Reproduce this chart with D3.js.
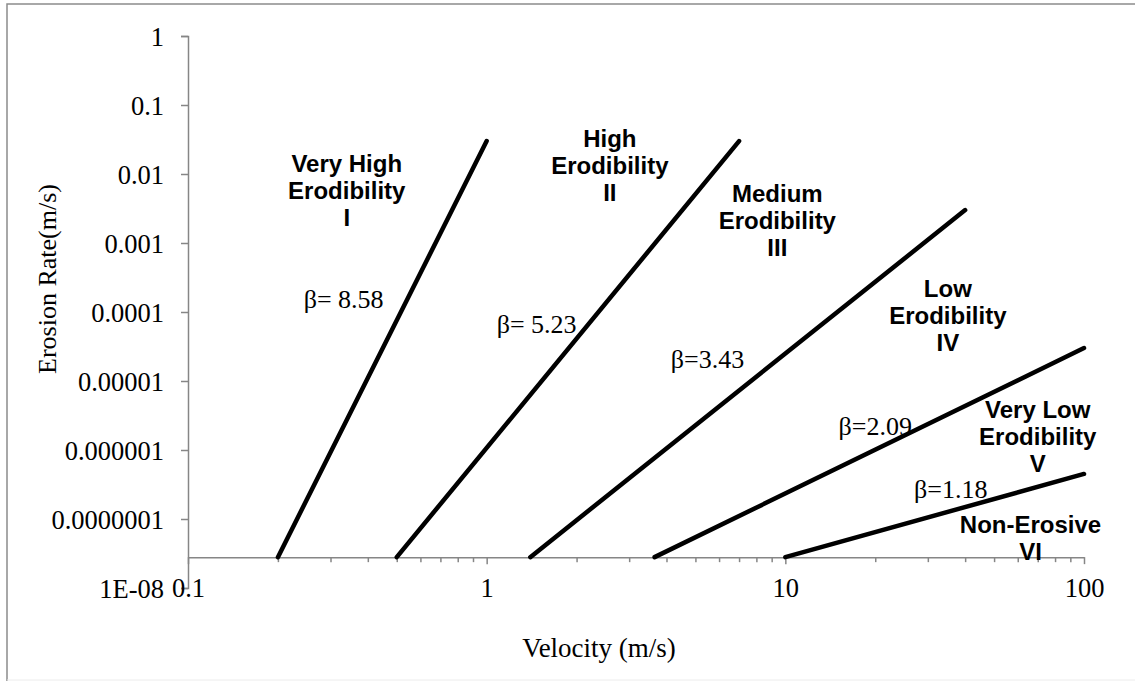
<!DOCTYPE html>
<html><head><meta charset="utf-8">
<script src="https://cdn.jsdelivr.net/npm/d3@7"></script>
<style>body{margin:0;background:#fff}svg{display:block}</style>
</head><body>
<svg id="c" width="1135" height="681"></svg>
<script>
// ---- data ----
const classes = ["I","II","III","IV","V"];
const startVelocity = [0.2, 0.5, 1.4, 3.65, 10];
const endVelocity   = [1, 7, 40, 100, 100];
const startRate     = [2.8e-8, 2.8e-8, 2.8e-8, 2.8e-8, 2.8e-8];
const endRate       = [0.03, 0.03, 0.003, 3e-5, 4.5e-7];
const betaLabels    = ["β= 8.58","β= 5.23","β=3.43","β=2.09","β=1.18"];
const betaPos       = [[0.332,1.14e-4],[1.47,4.96e-5],[5.49,1.54e-5],[20.0,1.65e-6],[35.8,2.01e-7]];
const zoneLabels = [
  ["Very High","Erodibility","I"],
  ["High","Erodibility","II"],
  ["Medium","Erodibility","III"],
  ["Low","Erodibility","IV"],
  ["Very Low","Erodibility","V"],
  ["Non-Erosive","VI"]
];
const zonePos = [[0.340,0.0107],[2.585,0.0246],[9.40,0.00393],[35.0,1.65e-4],[70.0,2.91e-6],[66.2,6.27e-8]];
const xTicks = [0.1, 1, 10, 100];
const xTickLabels = ["0.1","1","10","100"];
const yTicks = [1, 0.1, 0.01, 0.001, 0.0001, 0.00001, 0.000001, 0.0000001, 1e-8];
const yTickLabels = ["1","0.1","0.01","0.001","0.0001","0.00001","0.000001","0.0000001","1E-08"];
const axisCross = 2.8e-8;

// ---- chart ----
const svg = d3.select("#c");
svg.append("path").attr("d","M7,681V4H1135").attr("fill","none").attr("stroke","#8c8c8c").attr("stroke-width",1.5);
svg.append("line").attr("x1",7).attr("x2",1135).attr("y1",680).attr("y2",680).attr("stroke","#ececec");

const x = d3.scaleLog().domain([0.1,100]).range([188,1084]);
const y = d3.scaleLog().domain([1e-8,1]).range([588,36]);
const serif = "'Liberation Serif','Times New Roman',serif";
const sans = "'Liberation Sans',Arial,sans-serif";
const axisColor = "#868686";

// y axis
const yAxis = d3.axisLeft(y).tickValues(yTicks).tickSizeOuter(0).tickSize(7).tickPadding(17)
  .tickFormat((d,i)=>yTickLabels[i]);
const gy = svg.append("g").attr("transform",`translate(${x(0.1)},0)`).call(yAxis);
gy.select(".domain").attr("stroke",axisColor).attr("stroke-width",1.5);
gy.selectAll(".tick line").attr("stroke",axisColor).attr("stroke-width",1.5);
gy.selectAll(".tick text").attr("font-family",serif).attr("font-size",26.5).attr("fill","#000").attr("dy","0.36em");

// x axis with log minor ticks
const minor = [];
for (let d=0.1; d<100; d*=10) for (let k=2;k<=9;k++) minor.push(d*k);
const gxMinor = svg.append("g").attr("transform",`translate(0,${y(axisCross)})`)
  .call(d3.axisBottom(x).tickValues(minor).tickSize(5).tickSizeOuter(0).tickFormat(""));
gxMinor.select(".domain").remove();
gxMinor.selectAll(".tick line").attr("stroke",axisColor).attr("stroke-width",1.5);
const gx = svg.append("g").attr("transform",`translate(0,${y(axisCross)})`)
  .call(d3.axisBottom(x).tickValues(xTicks).tickSize(7).tickSizeOuter(0).tickPadding(14)
    .tickFormat((d,i)=>xTickLabels[i]));
gx.select(".domain").attr("stroke",axisColor).attr("stroke-width",1.5);
gx.selectAll(".tick line").attr("stroke",axisColor).attr("stroke-width",1.5);
gx.selectAll(".tick text").attr("font-family",serif).attr("font-size",26.5).attr("fill","#000");

// axis titles
svg.append("text").attr("x",599).attr("y",657).attr("text-anchor","middle")
  .attr("font-family",serif).attr("font-size",27).text("Velocity (m/s)");
svg.append("text").attr("transform","translate(56,279) rotate(-90)").attr("text-anchor","middle")
  .attr("font-family",serif).attr("font-size",26).text("Erosion Rate(m/s)");

// lines
const line = d3.line().x(d=>x(d[0])).y(d=>y(d[1]));
classes.forEach((c,i)=>{
  svg.append("path").datum([[startVelocity[i],startRate[i]],[endVelocity[i],endRate[i]]])
    .attr("d",line).attr("fill","none").attr("stroke","#000").attr("stroke-width",4.5)
    .attr("stroke-linecap","round");
});

// beta labels
betaLabels.forEach((t,i)=>{
  svg.append("text").attr("x",x(betaPos[i][0])).attr("y",y(betaPos[i][1]))
    .attr("text-anchor","middle").attr("font-family",serif).attr("font-size",26).text(t);
});

// zone labels
zoneLabels.forEach((lines,i)=>{
  const t = svg.append("text").attr("x",x(zonePos[i][0])).attr("y",y(zonePos[i][1]))
    .attr("text-anchor","middle").attr("font-family",sans).attr("font-weight","bold").attr("font-size",24);
  lines.forEach((l,j)=>t.append("tspan").attr("x",x(zonePos[i][0])).attr("dy",j?27:0).text(l));
});
</script>
</body></html>
